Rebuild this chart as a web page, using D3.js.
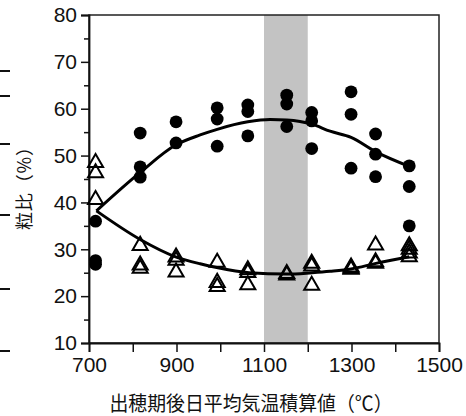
<!DOCTYPE html>
<html>
<head>
<meta charset="utf-8">
<script src="https://cdn.jsdelivr.net/npm/d3@7"></script>
<style>
  body { margin: 0; background: #fff; }
  svg text { fill: #111; }
</style>
</head>
<body>
<div id="chart"></div>
<script>
// heat sum after heading (°C) for each sampling group
const heatSums = [715, 817, 899, 993, 1063, 1152, 1209, 1299, 1355, 1432];
// filled circles: ratio (%) per group
const filledRatios = [
  [36.0, 27.6, 26.8],
  [54.8, 47.6, 45.4],
  [57.2, 52.7],
  [60.2, 57.8, 52.0],
  [60.8, 59.4, 54.2],
  [62.9, 61.0, 56.2],
  [59.2, 57.4, 51.5],
  [63.6, 58.8, 47.3],
  [54.6, 50.3, 45.5],
  [47.8, 43.4, 35.0]
];
// open triangles: ratio (%) per group
const openRatios = [
  [48.5, 46.3, 40.6],
  [30.8, 26.6, 25.9],
  [28.3, 27.6, 25.1],
  [27.2, 22.9, 22.0],
  [25.6, 25.0, 22.4],
  [24.5, 24.8],
  [27.0, 26.4, 22.3],
  [26.2, 25.9, 25.7],
  [30.9, 27.3, 27.0],
  [30.7, 30.0, 29.2, 28.4]
];
// fitted curves
const filledFit = [[717, 38.2], [817, 46.4], [899, 52.3], [954, 54.4], [993, 55.6], [1063, 57.2],
  [1114, 57.7], [1152, 57.6], [1210, 56.7], [1251, 55.2], [1299, 53.9], [1356, 50.8], [1432, 47.7]];
const openFit = [[717, 38.2], [817, 32.1], [898, 28.4], [954, 26.9], [992, 26.1], [1066, 25.0],
  [1152, 24.7], [1210, 25.0], [1251, 25.3], [1299, 25.8], [1356, 27.0], [1432, 28.4]];
const bandRange = [1100, 1200];

const xTickValues = [700, 800, 900, 1000, 1100, 1200, 1300, 1400, 1500];
const xTickLabels = [700, 900, 1100, 1300, 1500];
const yTickValues = [10, 15, 20, 25, 30, 35, 40, 45, 50, 55, 60, 65, 70, 75, 80];
const yTickLabels = [10, 20, 30, 40, 50, 60, 70, 80];
const xTitle = '出穂期後日平均気温積算値（℃）';
const yTitle = '粒比（%）';

// bits of a neighbouring panel's axis left in the crop
const strayTicks = [71, 96, 144, 215, 289, 351];

const width = 466, height = 416;
const margin = { top: 15, right: 27, bottom: 73, left: 89 };
const innerW = width - margin.left - margin.right;
const innerH = height - margin.top - margin.bottom;

const svg = d3.select('#chart')
  .append('svg')
  .attr('width', width)
  .attr('height', height)
  .style('font-family', '"DejaVu Sans Condensed", "DejaVu Sans", sans-serif');

svg.selectAll('.stray')
  .data(strayTicks)
  .enter().append('line')
  .attr('class', 'stray')
  .attr('x1', 0).attr('x2', 10)
  .attr('y1', d => d).attr('y2', d => d)
  .attr('stroke', '#111')
  .attr('stroke-width', 2);

const g = svg.append('g')
  .attr('transform', `translate(${margin.left},${margin.top})`);

const x = d3.scaleLinear().domain([700, 1500]).range([0, innerW]);
const y = d3.scaleLinear().domain([10, 80]).range([innerH, 0]);

// shaded band
g.append('rect')
  .attr('x', x(bandRange[0]))
  .attr('y', 0)
  .attr('width', x(bandRange[1]) - x(bandRange[0]))
  .attr('height', innerH)
  .attr('fill', '#c3c3c3');

// frame
g.append('rect')
  .attr('width', innerW)
  .attr('height', innerH)
  .attr('fill', 'none')
  .attr('stroke', '#222')
  .attr('stroke-width', 1.5);

// x axis
const xAxis = g.append('g')
  .attr('transform', `translate(0,${innerH})`)
  .call(d3.axisBottom(x)
    .tickValues(xTickValues)
    .tickSize(9)
    .tickPadding(5)
    .tickFormat(d => xTickLabels.includes(d) ? d : ''));
xAxis.select('.domain').attr('stroke', '#111').attr('stroke-width', 1.8);
xAxis.selectAll('.tick line').attr('stroke', '#111').attr('stroke-width', 1.5);
xAxis.selectAll('.tick text')
  .attr('font-size', 21)
  .attr('fill', '#111');

// y axis
const yAxis = g.append('g')
  .call(d3.axisLeft(y)
    .tickValues(yTickValues)
    .tickSize(8)
    .tickPadding(4)
    .tickFormat(d => yTickLabels.includes(d) ? d : ''));
yAxis.select('.domain').attr('stroke', '#111').attr('stroke-width', 1.8);
yAxis.selectAll('.tick line')
  .attr('stroke', '#111')
  .attr('stroke-width', 1.5)
  .attr('x2', d => yTickLabels.includes(d) ? -8 : -5);
yAxis.selectAll('.tick text')
  .attr('font-size', 21)
  .attr('fill', '#111');

// fitted curves
const line = d3.line()
  .x(d => x(d[0]))
  .y(d => y(d[1]))
  .curve(d3.curveMonotoneX);

[filledFit, openFit].forEach(pts => {
  g.append('path')
    .datum(pts)
    .attr('d', line)
    .attr('fill', 'none')
    .attr('stroke', '#000')
    .attr('stroke-width', 3);
});

// markers
const flatten = groups => groups.flatMap((vals, i) => vals.map(v => ({ h: heatSums[i], v })));

g.selectAll('.tri')
  .data(flatten(openRatios))
  .enter().append('path')
  .attr('class', 'tri')
  .attr('d', d3.symbol().type(d3.symbolTriangle).size(98))
  .attr('transform', d => `translate(${x(d.h)},${y(d.v)})`)
  .attr('fill', 'none')
  .attr('stroke', '#000')
  .attr('stroke-width', 2);

g.selectAll('.dot')
  .data(flatten(filledRatios))
  .enter().append('circle')
  .attr('class', 'dot')
  .attr('cx', d => x(d.h))
  .attr('cy', d => y(d.v))
  .attr('r', 6.4)
  .attr('fill', '#000');

// titles
svg.append('text')
  .attr('x', 251)
  .attr('y', 411)
  .attr('text-anchor', 'middle')
  .attr('font-size', 20)
  .attr('textLength', 283)
  .attr('lengthAdjust', 'spacingAndGlyphs')
  .style('font-family', '"Noto Sans CJK JP", sans-serif')
  .text(xTitle);

svg.append('text')
  .attr('transform', 'translate(31,184) rotate(-90)')
  .attr('text-anchor', 'middle')
  .attr('font-size', 18)
  .attr('textLength', 92)
  .attr('lengthAdjust', 'spacing')
  .style('font-family', '"Noto Sans CJK JP", sans-serif')
  .text(yTitle);
</script>
</body>
</html>
